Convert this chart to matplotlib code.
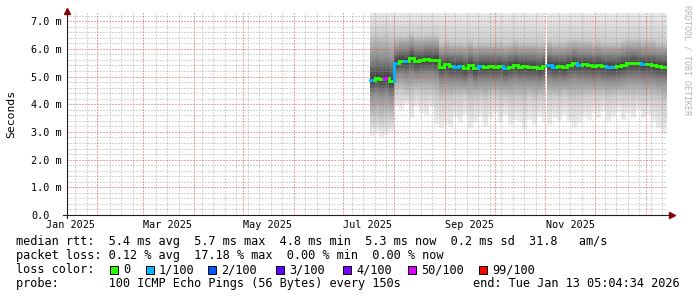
import numpy as np
import pandas as pd
import matplotlib
matplotlib.use("Agg")
import matplotlib.pyplot as plt
import matplotlib.transforms as mtransforms
from matplotlib.collections import LineCollection
from matplotlib.patches import Rectangle

plt.rcParams['font.family'] = ['DejaVu Sans Mono']

nan = np.nan

# --------------------------------
# Data (3-day rrd steps, outage on Nov 1)
# --------------------------------
bin_starts = (list(pd.date_range("2025-07-17", periods=36, freq="3D"))
              + [pd.Timestamp("2025-11-01")]
              + list(pd.date_range("2025-11-02", periods=24, freq="3D")))
graph_start = pd.Timestamp("2025-01-13 22:00")
graph_end = pd.Timestamp("2026-01-13 22:00")

# median rtt in ms
median_ms = [4.88, 4.96, 4.90, 4.95, 4.82,
             5.50, 5.57, 5.55, 5.68, 5.55, 5.58, 5.62, 5.60, 5.60,
             5.36, 5.44, 5.38, 5.36, 5.38, 5.30,
             5.42, 5.30, 5.38, 5.36, 5.38, 5.34, 5.38, 5.30, 5.36, 5.42,
             5.36, 5.38, 5.34, 5.36, 5.30, 5.38,
             nan,
             5.42, 5.36, 5.38, 5.34, 5.42, 5.48, 5.42, 5.45, 5.42, 5.38, 5.42, 5.38,
             5.36, 5.33, 5.38, 5.42, 5.48, 5.50, 5.48, 5.45, 5.46, 5.42, 5.38, 5.36]

# loss colour index per step (0 -> "0", 1 -> "1/100", 5 -> "50/100")
loss_idx = [1, 0, 0, 5, 0,
            1, 0, 1, 0, 0, 0, 0, 0, 0,
            0, 0, 0, 1, 1, 0,
            0, 0, 1, 0, 0, 0, 0, 1, 0, 0,
            0, 0, 0, 0, 0, 0,
            0,
            1, 1, 0, 0, 0, 0, 1, 0, 0, 0, 0, 0,
            1, 1, 0, 0, 0, 0, 0, 1, 0, 0, 0, 0]

# smoke (ping distribution) in ms
ping_min = [2.85, 2.95, 2.80, 2.90, 3.00,
            3.90, 3.80, 4.00, 3.50, 3.90, 3.70, 3.60, 3.90, 3.30,
            3.13, 3.25, 3.19, 3.49, 3.31, 3.61,
            3.13, 3.37, 3.55, 3.19, 3.49, 3.67, 3.31, 3.61, 3.25, 3.43,
            3.37, 3.07, 3.43, 3.25, 3.55, 3.37,
            nan,
            3.25, 3.49, 3.37, 3.61, 3.37, 3.13, 3.31, 3.55, 3.43, 3.67, 3.49, 3.73,
            3.37, 3.55, 3.73, 3.43, 3.67, 3.49, 3.79, 3.49, 3.61, 3.37, 3.13, 2.95]
ping_p10 = [3.45, 3.55, 3.40, 3.50, 3.45,
            4.40, 4.45, 4.35, 4.30, 4.45, 4.40, 4.35, 4.40, 4.25,
            4.15, 4.20, 4.15, 4.25, 4.20, 4.30,
            4.10, 4.20, 4.25, 4.15, 4.25, 4.30, 4.20, 4.25, 4.15, 4.20,
            4.20, 4.10, 4.25, 4.15, 4.25, 4.20,
            nan,
            4.20, 4.25, 4.20, 4.30, 4.20, 4.15, 4.20, 4.25, 4.25, 4.30, 4.25, 4.30,
            4.20, 4.25, 4.30, 4.25, 4.30, 4.25, 4.30, 4.25, 4.25, 4.20, 4.15, 4.05]
ping_p25 = [4.30, 4.35, 4.30, 4.35, 4.25,
            5.00, 5.05, 5.00, 5.05, 5.00, 5.05, 5.05, 5.05, 5.00,
            4.80, 4.85, 4.80, 4.80, 4.80, 4.75,
            4.85, 4.75, 4.80, 4.80, 4.80, 4.80, 4.80, 4.75, 4.80, 4.85,
            4.80, 4.80, 4.80, 4.80, 4.75, 4.80,
            nan,
            4.85, 4.80, 4.80, 4.80, 4.85, 4.90, 4.85, 4.85, 4.85, 4.80, 4.85, 4.80,
            4.80, 4.80, 4.80, 4.85, 4.90, 4.90, 4.90, 4.85, 4.85, 4.85, 4.80, 4.80]
ping_p75 = [5.70, 5.75, 5.70, 5.75, 5.65,
            6.00, 6.05, 6.05, 6.15, 6.05, 6.05, 6.10, 6.10, 6.10,
            5.85, 5.90, 5.85, 5.85, 5.85, 5.80,
            5.90, 5.80, 5.85, 5.85, 5.85, 5.85, 5.85, 5.80, 5.85, 5.90,
            5.85, 5.85, 5.85, 5.85, 5.80, 5.85,
            nan,
            5.90, 5.85, 5.85, 5.85, 5.90, 5.95, 5.90, 5.90, 5.90, 5.85, 5.90, 5.85,
            5.85, 5.85, 5.85, 5.90, 5.95, 5.95, 5.95, 5.90, 5.90, 5.90, 5.85, 5.85]
ping_p90 = [6.55, 6.60, 6.55, 6.60, 6.50,
            6.45, 6.50, 6.50, 6.60, 6.50, 6.50, 6.55, 6.55, 6.55,
            6.30, 6.35, 6.30, 6.30, 6.30, 6.25,
            6.35, 6.25, 6.30, 6.30, 6.30, 6.30, 6.30, 6.25, 6.30, 6.35,
            6.30, 6.30, 6.30, 6.30, 6.25, 6.30,
            nan,
            6.35, 6.30, 6.30, 6.30, 6.35, 6.40, 6.35, 6.35, 6.35, 6.30, 6.35, 6.30,
            6.30, 6.30, 6.30, 6.35, 6.40, 6.40, 6.40, 6.35, 6.35, 6.35, 6.30, 6.30]

loss_labels = ["0", "1/100", "2/100", "3/100", "4/100", "50/100", "99/100"]
loss_colors = ["#26ff00", "#00b8ff", "#0059ff", "#5e00ff", "#7e00ff", "#dd00ff", "#ff0000"]

y_ticks = [0, 1, 2, 3, 4, 5, 6, 7]
y_tick_labels = ["0.0", "1.0 m", "2.0 m", "3.0 m", "4.0 m", "5.0 m", "6.0 m", "7.0 m"]
x_label_dates = pd.to_datetime(["2025-01-16", "2025-03-16", "2025-05-16",
                                "2025-07-16", "2025-09-16", "2025-11-16"])
x_labels = ["Jan 2025", "Mar 2025", "May 2025", "Jul 2025", "Sep 2025", "Nov 2025"]

legend_lines = [
    "median rtt:  5.4 ms avg  5.7 ms max  4.8 ms min  5.3 ms now  0.2 ms sd  31.8   am/s",
    "packet loss: 0.12 % avg  17.18 % max  0.00 % min  0.00 % now",
    "loss color:",
    "probe:       100 ICMP Echo Pings (56 Bytes) every 150s",
]
end_text = "end: Tue Jan 13 05:04:34 2026"

# --------------------------------
# helpers
# --------------------------------
edges = np.array(pd.DatetimeIndex(bin_starts + [graph_end]).to_pydatetime())
edges = matplotlib.dates.date2num(edges)


def steps(values):
    xs = np.column_stack([edges[:-1], edges[1:]]).ravel()
    ys = np.repeat(np.array(values, dtype=float), 2)
    return xs, ys


W, H = 697, 297
fig = plt.figure(figsize=(W / 100, H / 100), dpi=100)
fig.patch.set_facecolor("white")
ax = fig.add_axes([67 / W, (H - 215) / H, 600 / W, 202 / H])
y_top = 202 / 27.7
ax.set_xlim(graph_start, graph_end)
ax.set_ylim(0, y_top)
for s in ax.spines.values():
    s.set_visible(False)

# --------------------------------
# smoke: shaded from the outer pings in towards the median
# --------------------------------
xs, lo = steps(ping_min)
_, p10 = steps(ping_p10)
_, p25 = steps(ping_p25)
_, p75 = steps(ping_p75)
_, p90 = steps(ping_p90)
_, med = steps(median_ms)
top = np.where(np.isnan(lo), np.nan, y_top + 0.15)

lower_edges = [lo, p10, p25, med]
upper_edges = [top, p90, p75, med]
shade = [0.93, 0.80, 0.56, 0.22]
n_sub = 12
for b in range(3):
    for k in range(n_sub):
        t = k / n_sub
        lower = lower_edges[b] + t * (lower_edges[b + 1] - lower_edges[b])
        upper = upper_edges[b] + t * (upper_edges[b + 1] - upper_edges[b])
        g = shade[b] + t * (shade[b + 1] - shade[b])
        ax.fill_between(xs, lower, upper, color=(g, g, g), lw=0, zorder=1)

# --------------------------------
# grid
# --------------------------------
grid_kw = dict(lw=0.75, ls=(0, (1, 1)), zorder=1.5, antialiased=False)
months = pd.date_range("2025-02-01", "2026-01-01", freq="MS")
weeks = pd.date_range("2025-01-19", "2026-01-13", freq="W-SUN")
for d in weeks:
    if np.min(np.abs((months - d).days)) < 3:
        continue
    ax.axvline(d, color="#8f8f8f", alpha=0.38, **grid_kw)
for v in np.arange(0.2, y_top, 0.2):
    if abs(v - round(v)) > 0.01:
        ax.axhline(v, color="#8f8f8f", alpha=0.38, **grid_kw)
for d in months:
    ax.axvline(d, color="#de5050", alpha=0.5, **grid_kw)
for v in y_ticks[1:]:
    ax.axhline(v, color="#de5050", alpha=0.5, **grid_kw)

# median coloured by loss
segs, cols = [], []
n = len(median_ms)
for i in range(n):
    m = median_ms[i]
    if np.isnan(m):
        continue
    segs.append([(edges[i], m), (edges[i + 1], m)])
    cols.append(loss_colors[loss_idx[i]])
    if i + 1 < n and not np.isnan(median_ms[i + 1]):
        segs.append([(edges[i + 1], m), (edges[i + 1], median_ms[i + 1])])
        cols.append(loss_colors[loss_idx[i + 1]])
ax.add_collection(LineCollection(segs, colors=cols, linewidths=2.0,
                                 capstyle="projecting", zorder=3))

# axes, arrows
ax.plot([0, 0], [-3 / 202, 1], color="#202020", lw=0.8, transform=ax.transAxes,
        clip_on=False, zorder=4)
ax.plot([-4 / 600, 1 + 2 / 600], [0, 0], color="#202020", lw=0.8,
        transform=ax.transAxes, clip_on=False, zorder=4)
up = mtransforms.offset_copy(ax.transAxes, fig=fig, x=0, y=2.5, units="dots")
right = mtransforms.offset_copy(ax.transAxes, fig=fig, x=4.5, y=0, units="dots")
ax.plot([0], [1], marker="^", ms=4, color="#8b0000", transform=up, clip_on=False)
ax.plot([1], [0], marker=">", ms=4, color="#8b0000", transform=right, clip_on=False)

# ticks
ax.set_yticks(y_ticks)
ax.set_yticklabels(y_tick_labels)
ax.tick_params(axis="y", length=0, pad=26, labelsize=7.3)
for lab in ax.get_yticklabels():
    lab.set_ha("left")
ax.set_xticks(x_label_dates)
ax.set_xticklabels(x_labels)
ax.tick_params(axis="x", length=0, pad=3.5, labelsize=7.3)
ax.set_ylabel("Seconds", fontsize=8.2, labelpad=0)
ax.yaxis.set_label_coords(-51 / 600, 0.5)

# watermark
fig.text(687 / W, 1 - 5 / H, "RRDTOOL / TOBI OETIKER", rotation=-90, ha="center",
         va="top", fontsize=6, color="#b4b4b4")

# legend
line_y = [241.5, 255.8, 269.6, 283.6]
for txt, yy in zip(legend_lines, line_y):
    fig.text(16 / W, 1 - yy / H, txt, ha="left", va="center", fontsize=8.55)
fig.text(680 / W, 1 - line_y[3] / H, end_text, ha="right", va="center", fontsize=8.55)
label_x = [123, 159, 221, 289, 356, 421, 492]
for lab, col, lx in zip(loss_labels, loss_colors, label_x):
    fig.patches.append(Rectangle(((lx - 13) / W, 1 - (line_y[2] + 4) / H), 8 / W, 8 / H,
                                 transform=fig.transFigure, facecolor=col,
                                 edgecolor="black", lw=0.7))
    fig.text(lx / W, 1 - line_y[2] / H, lab, ha="left", va="center", fontsize=8.55)

fig.savefig("out.png", dpi=100)
